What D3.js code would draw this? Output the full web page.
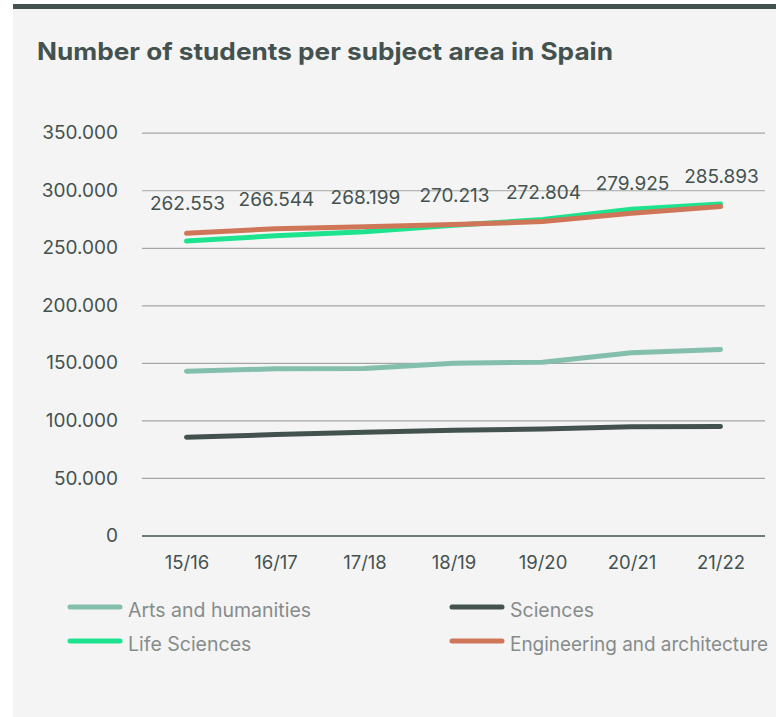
<!DOCTYPE html>
<html>
<head>
<meta charset="utf-8">
<script src="https://cdn.jsdelivr.net/npm/d3@7"></script>
<style>
  html, body { margin: 0; padding: 0; background: #fff; }
  svg { display: block; font-family: Inter, Roboto, sans-serif; }
</style>
</head>
<body>
<div class="chart"></div>
<script>
const years = ["15/16", "16/17", "17/18", "18/19", "19/20", "20/21", "21/22"];
const yTicks = [0, 50000, 100000, 150000, 200000, 250000, 300000, 350000];

const arts = [142800, 144800, 145100, 149700, 150600, 158700, 161600];
const sciences = [85400, 87700, 89700, 91500, 92600, 94400, 94700];
const lifeSciences = [255800, 260500, 264000, 269500, 274500, 283500, 288000];
const engineering = [262553, 266544, 268199, 270213, 272804, 279925, 285893];

const seriesNames = ["Arts and humanities", "Sciences", "Life Sciences", "Engineering and architecture"];
const seriesColors = ["#84bfae", "#44524f", "#1de38f", "#cf7659"];

const width = 776, height = 717;
const dark = "#44524f";

const svg = d3.select(".chart").append("svg")
  .attr("width", width)
  .attr("height", height);

// panel + top bar
svg.append("rect").attr("x", 13).attr("y", 4).attr("width", width - 13).attr("height", height - 4).attr("fill", "#f4f4f4");
svg.append("rect").attr("x", 13).attr("y", 4).attr("width", width - 13).attr("height", 5).attr("fill", dark);

svg.append("text")
  .attr("x", 37).attr("y", 60)
  .attr("fill", dark)
  .attr("font-size", 24).attr("font-weight", 700)
  .attr("textLength", 576).attr("lengthAdjust", "spacingAndGlyphs")
  .text("Number of students per subject area in Spain");

const plot = {left: 142, right: 765, top: 132.7, bottom: 535.5};

const x = d3.scalePoint().domain(years).range([plot.left, plot.right]).padding(0.5);
const y = d3.scaleLinear().domain([0, 350000]).range([plot.bottom, plot.top]);

const fmt = v => d3.format(",")(v).replace(/,/g, ".");

// grid
const g = svg.append("g");
g.append("g")
  .attr("transform", `translate(${plot.left},0)`)
  .call(d3.axisLeft(y).tickValues(yTicks).tickSize(-(plot.right - plot.left)).tickFormat(d => fmt(d)).tickPadding(24))
  .call(a => a.select(".domain").remove())
  .call(a => a.selectAll("line").attr("stroke", d => d === 0 ? dark : "#a3a6a5").attr("stroke-width", d => d === 0 ? 1.6 : 1.2))
  .call(a => a.selectAll("text").attr("fill", dark).attr("font-size", 19).attr("font-family", "Inter"));

// x axis labels
g.append("g")
  .attr("transform", `translate(0,${plot.bottom})`)
  .call(d3.axisBottom(x).tickSize(0).tickPadding(20))
  .call(a => a.select(".domain").remove())
  .call(a => a.selectAll("text").attr("fill", dark).attr("font-size", 18.5).attr("font-family", "Inter"));

const line = d3.line().x((d, i) => x(years[i])).y(d => y(d));

[arts, sciences, lifeSciences, engineering].forEach((vals, k) => {
  g.append("path")
    .datum(vals)
    .attr("d", line)
    .attr("fill", "none")
    .attr("stroke", seriesColors[k])
    .attr("stroke-width", 5)
    .attr("stroke-linecap", "round")
    .attr("stroke-linejoin", "round");
});

// value labels for engineering
g.selectAll(".val")
  .data(engineering)
  .enter().append("text")
  .attr("x", (d, i) => x(years[i]) + 1)
  .attr("y", d => y(d) - 23)
  .attr("text-anchor", "middle")
  .attr("fill", dark)
  .attr("font-size", 19)
  .text(d => fmt(d));

// legend
const legendPos = [[70, 610], [452, 610], [70, 644], [452, 644]];
const legend = svg.append("g");
seriesNames.forEach((name, k) => {
  const [lx, ly] = legendPos[k];
  legend.append("line")
    .attr("x1", lx).attr("x2", lx + 50)
    .attr("y1", ly - 3).attr("y2", ly - 3)
    .attr("stroke", seriesColors[k]).attr("stroke-width", 5).attr("stroke-linecap", "round");
  legend.append("text")
    .attr("x", lx + 58).attr("y", ly + 7)
    .attr("fill", "#868c8b")
    .attr("font-size", 19.5)
    .attr("textLength", k === 3 ? 258 : null)
    .attr("lengthAdjust", "spacingAndGlyphs")
    .text(name);
});
</script>
</body>
</html>
